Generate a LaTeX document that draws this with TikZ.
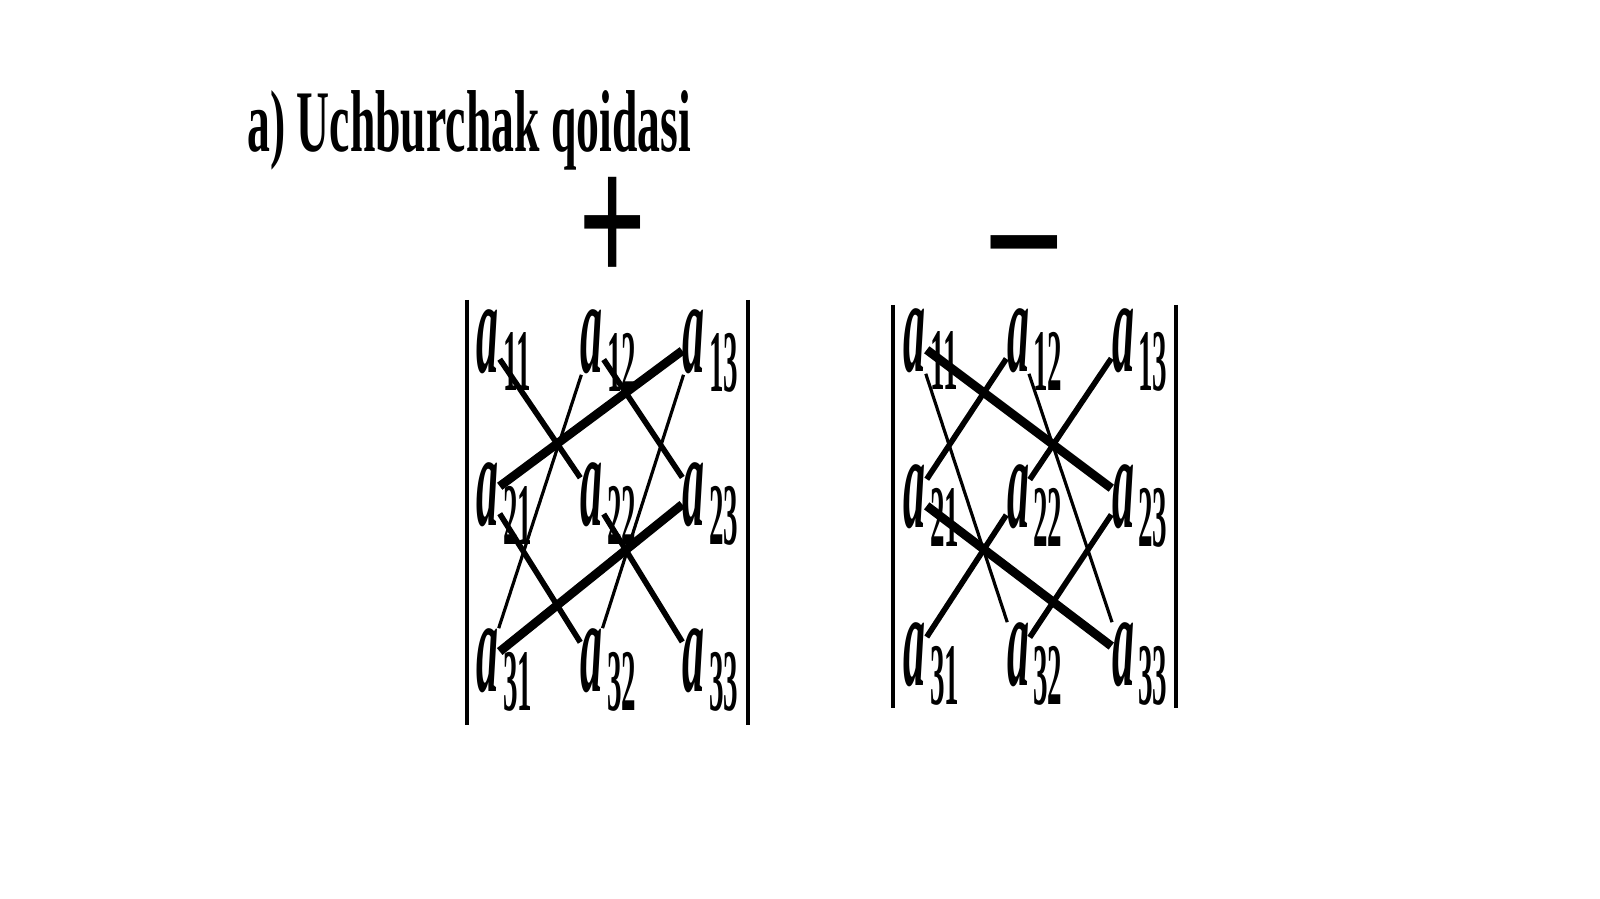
\documentclass[tikz,border=0pt]{standalone}
\usepackage{fontspec}
\usetikzlibrary{positioning}
\newfontfamily\titlefont[FakeStretch=0.52]{Liberation Serif}
\newfontfamily\entryfont[FakeStretch=0.33]{Liberation Serif}
\newfontfamily\signfont{Liberation Serif}
\begin{document}
\begin{tikzpicture}[
    entry/.style={font=\fontsize{38}{38}\selectfont\entryfont\bfseries\itshape, inner sep=0pt},
    sub/.style={font=\fontsize{25}{25}\selectfont\entryfont\bfseries, inner sep=0pt},
    sign/.style={font=\fontsize{55}{55}\selectfont\signfont\bfseries, inner sep=0pt},
    bar/.style={line width=1.4pt},
    heavy/.style={line width=2.5pt},
    mid/.style={line width=1.6pt},
    fine/.style={line width=0.9pt}]
\useasboundingbox (0,0) rectangle (16,8.99);
\node [anchor=base west, font=\fontsize{25}{25}\selectfont\titlefont\bfseries] (title) at (2.35,7.47) {a) Uchburchak qoidasi};
\node [sign] (plus) at (6.13,6.67) {\scalebox{0.62}[1]{+}};
\node [sign] (minus) at (10.24,6.28) {\scalebox{0.74}[1]{−}};
\foreach \r/\y in {1/5.57, 2/4.04, 3/2.38}
  \foreach \c/\x in {1/4.88, 2/5.92, 3/6.94} {
    \node [entry] (p\r\c) at (\x,\y) {a};
    \node [sub, below right=0.23cm and 0.03cm of p\r\c.north east] {\r\c};
  }
\foreach \r/\y in {1/5.58, 2/4.02, 3/2.44}
  \foreach \c/\x in {1/9.15, 2/10.18, 3/11.23} {
    \node [entry] (m\r\c) at (\x,\y) {a};
    \node [sub, below right=0.23cm and 0.03cm of m\r\c.north east] {\r\c};
  }
\draw [bar] (4.67,5.99) -- (4.67,1.74);
\draw [bar] (7.48,5.99) -- (7.48,1.74);
\draw [bar] (8.93,5.94) -- (8.93,1.91);
\draw [bar] (11.76,5.94) -- (11.76,1.91);
\draw [mid] (p11) -- (p22);
\draw [mid] (p22) -- (p33);
\draw [heavy] (p21) -- (p13);
\draw [fine] (p13) -- (p32);
\draw [mid] (p21) -- (p32);
\draw [mid] (p12) -- (p23);
\draw [heavy] (p23) -- (p31);
\draw [fine] (p12) -- (p31);
\draw [mid] (m13) -- (m22);
\draw [mid] (m22) -- (m31);
\draw [heavy] (m11) -- (m23);
\draw [fine] (m11) -- (m32);
\draw [mid] (m23) -- (m32);
\draw [mid] (m12) -- (m21);
\draw [fine] (m12) -- (m33);
\draw [heavy] (m21) -- (m33);
\end{tikzpicture}
\end{document}
